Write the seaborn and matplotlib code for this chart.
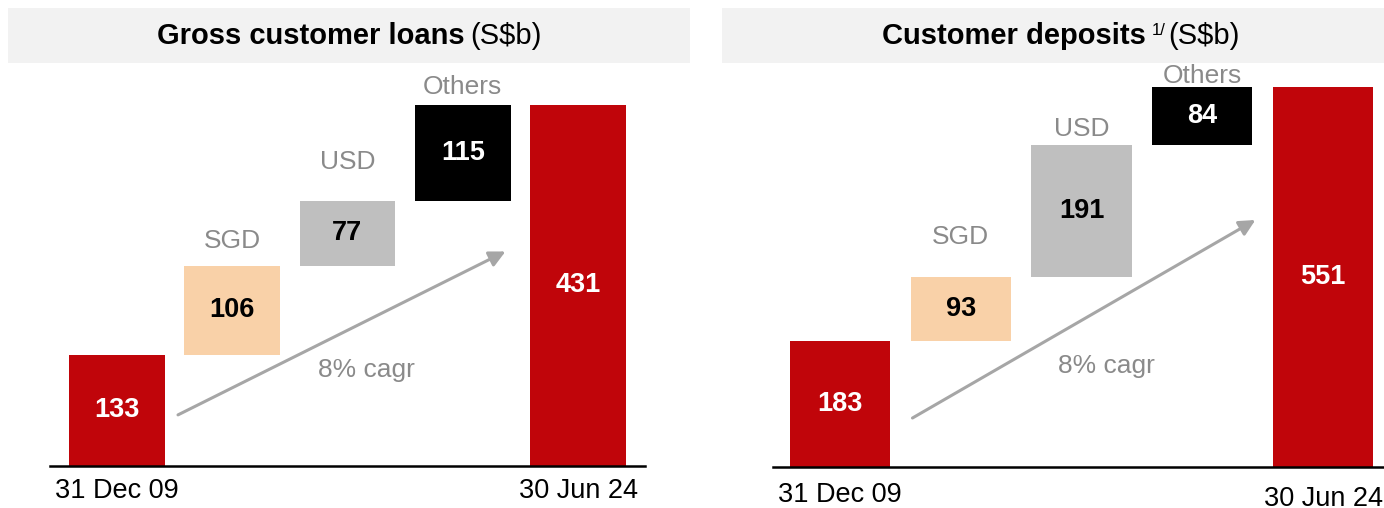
"""Waterfall charts: gross customer loans and customer deposits by currency."""

import numpy as np
import pandas as pd
import seaborn as sns
import matplotlib.pyplot as plt
from matplotlib.patches import Rectangle

###################################################################################################
###################################################################################################

steps = ['31 Dec 09', 'SGD', 'USD', 'Others', '30 Jun 24']
loans = [133, 106, 77, 115, 431]
deposits = [183, 93, 191, 84, 551]
cagr_label = '8% cagr'

RED = '#C0050A'
bar_colors = [RED, '#F9D1A8', '#BFBFBF', '#000000', RED]
value_colors = ['white', 'black', 'black', 'white', 'white']
GREY_TEXT = '#8A8A8A'
ARROW_GREY = '#A6A6A6'

W, H = 1384, 508

sns.set_style('white')
plt.rcParams['font.family'] = ['Liberation Sans', 'DejaVu Sans']
plt.rcParams['text.color'] = 'black'

fig = plt.figure(figsize=(W / 100, H / 100), dpi=100)


def px_axes(x0, x1, y_top, y_base):
    """Add axes given pixel edges (image coords, y down)."""
    return fig.add_axes([x0 / W, 1 - y_base / H, (x1 - x0) / W, (y_base - y_top) / H])


def plot_waterfall(ax, values, ylim, xlim, label_offsets, arrow_from, arrow_to, cagr_xy, pads):
    """Draw one floating-step waterfall on the given axes."""

    df = pd.DataFrame({'step': steps, 'value': values})
    bottoms = np.r_[0, np.cumsum(values[:-2]), 0]

    sns.barplot(data=df, x='step', y='value', bottom=bottoms, width=0.83,
                errorbar=None, color=RED, saturation=1, linewidth=0, ax=ax)
    for patch, col in zip(ax.patches, bar_colors):
        patch.set_facecolor(col)
        patch.set_edgecolor('none')

    # Values inside the bars
    texts = ax.bar_label(ax.containers[0], labels=[str(v) for v in values],
                         label_type='center', fontsize=19.5, fontweight='bold')
    for txt, col in zip(texts, value_colors):
        txt.set_color(col)

    # Currency names above the floating steps
    for ii in range(1, len(steps) - 1):
        ax.annotate(steps[ii], xy=(ii, bottoms[ii] + values[ii]),
                    xytext=(0, label_offsets[ii - 1] * 0.72), textcoords='offset points',
                    ha='center', va='center', color=GREY_TEXT, fontsize=19)

    # Growth arrow
    ax.annotate('', xy=arrow_to, xytext=arrow_from,
                arrowprops=dict(arrowstyle='-|>', color=ARROW_GREY, lw=2.2,
                                mutation_scale=24, shrinkA=0, shrinkB=0))
    ax.text(*cagr_xy, cagr_label, ha='center', va='center', color=GREY_TEXT, fontsize=19)

    ax.set_xlim(xlim)
    ax.set_ylim(ylim)
    ax.set_xticks([0, len(steps) - 1], [steps[0], steps[-1]])
    ax.set_yticks([])
    ax.set_xlabel('')
    ax.set_ylabel('')
    ax.tick_params(axis='x', length=0, labelsize=19.5, labelcolor='black')
    for tick, pad in zip(ax.xaxis.get_major_ticks(), pads):
        tick.set_pad(pad)

    sns.despine(ax=ax, left=True)
    ax.spines['bottom'].set_color('black')
    ax.spines['bottom'].set_linewidth(1.8)
    ax.patch.set_alpha(0)


def title_box(x0, x1):
    """Light grey banner behind a panel title."""

    fig.add_artist(Rectangle((x0 / W, 1 - 63 / H), (x1 - x0) / W, 55 / H,
                             transform=fig.transFigure, facecolor='#F2F2F2',
                             edgecolor='none', zorder=0))


def title_text(x_start, bold, unit, note=None):
    """Bold title, optional small raised note, then the unit in regular weight."""

    main = fig.text(x_start / W, 1 - 50 / H, bold, fontweight='bold', fontsize=21,
                    color='black', ha='left', va='bottom')
    prev = main
    if note:
        prev = ax1.annotate(note, xy=(1, 0.42), xycoords=main, xytext=(4, 0),
                            textcoords='offset points', fontsize=12, color='black',
                            ha='left', va='bottom', annotation_clip=False)
    ax1.annotate(unit, xy=(1, 0), xycoords=(prev, main), xytext=(4 if not note else 2, 0),
                 textcoords='offset points', fontsize=21, color='black',
                 ha='left', va='bottom', annotation_clip=False)


# Left panel: loans
ax1 = px_axes(50, 645, 70, 466)
plot_waterfall(ax1, loans, ylim=(0, 396 / 0.838), xlim=(-0.58, 4.58),
               label_offsets=[25, 39, 18],
               arrow_from=(0.53, 61), arrow_to=(3.37, 256), cagr_xy=(2.16, 115),
               pads=[8.5, 8.5])

# Right panel: deposits
ax2 = px_axes(773, 1384, 70, 467)
plot_waterfall(ax2, deposits, ylim=(0, 397 / 0.69), xlim=(-0.555, 4.505),
               label_offsets=[40, 16, 11],
               arrow_from=(0.60, 71), arrow_to=(3.44, 358), cagr_xy=(2.21, 146),
               pads=[11, 13.5])

title_box(8, 690)
title_box(722, 1384)
title_text(157, 'Gross customer loans', r'(S\$b)')
title_text(882, 'Customer deposits', r'(S\$b)', note='1/')

plt.savefig('out.png', dpi=100)
